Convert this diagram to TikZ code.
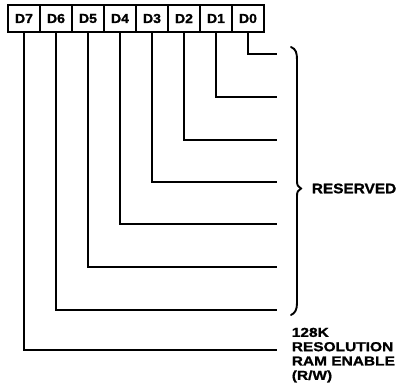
\documentclass[tikz,border=0pt]{standalone}
\usepackage{fontspec}
\setmainfont{Liberation Sans}
\newfontfamily\lblfont[FakeStretch=1.08,BoldFeatures={FakeBold=1.2}]{Liberation Sans}
\newfontfamily\resfont[FakeStretch=1.1,BoldFeatures={FakeBold=1.2}]{Liberation Sans}
\newfontfamily\notefont[FakeStretch=1.19,BoldFeatures={FakeBold=1.2}]{Liberation Sans}
\begin{document}
\begin{tikzpicture}[x=1pt,y=-1pt,line width=1.6pt,
  bitbox/.style={draw,minimum width=32pt,minimum height=27pt,inner sep=0pt,
    font=\lblfont\bfseries\fontsize{13}{13}\selectfont},
  wire/.style={line width=1.8pt},
  bracepath/.style={line width=1.9pt,line cap=round},
  restext/.style={anchor=west,inner sep=0pt,font=\resfont\bfseries\fontsize{14}{14}\selectfont},
  notetext/.style={anchor=north west,inner sep=0pt,align=left,
    font=\notefont\bfseries\fontsize{13}{14.3}\selectfont}]
\useasboundingbox (0,0) rectangle (398,389);
\foreach \i/\x in {7/24,6/56,5/88,4/120,3/152,2/184,1/216,0/248}
  \node[bitbox] (d\i) at (\x,18.5) {D\i};
\foreach \i/\y in {0/54,1/97,2/140,3/182,4/224,5/267,6/310,7/350}{
  \coordinate (e\i) at (277,\y);
  \draw[wire] (d\i.south) |- (e\i);
}
\draw[bracepath] (291,47) .. controls (296,49) and (297,53) .. (297,60)
  -- (297,181) .. controls (297,185) and (298,187) .. (301,188.5)
  .. controls (298,190) and (297,192) .. (297,196)
  -- (297,303) .. controls (297,310) and (295,313) .. (291,315);
\node[restext] (res) at (311,188.5) {RESERVED};
\node[notetext] (note) at (291,327) {128K\\RESOLUTION\\RAM ENABLE\\(R/W)};
\end{tikzpicture}
\end{document}
